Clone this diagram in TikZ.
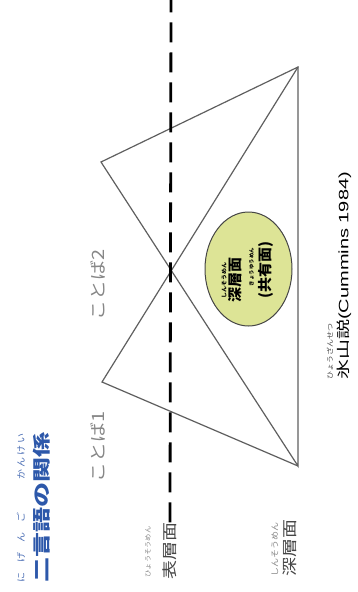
\documentclass[tikz,border=0pt]{standalone}
\usepackage{fontspec}
\setmainfont{Noto Sans CJK JP}
\newfontfamily\lat{Liberation Sans}
\usetikzlibrary{shapes.geometric}
\definecolor{tri}{RGB}{95,95,95}
\definecolor{titleblue}{RGB}{45,88,170}
\definecolor{rubyblue}{RGB}{75,110,180}
\definecolor{graytxt}{RGB}{135,135,135}
\definecolor{darktxt}{RGB}{70,70,70}
\definecolor{ellfill}{RGB}{221,228,150}
\newcommand\sqz[2]{\scalebox{1}[#1]{#2}}
\begin{document}
\begin{tikzpicture}[x=1pt,y=-1pt,
  edge/.style={draw=tri, line width=1.2pt, line join=miter},
  surf/.style={draw=black, line width=2.8pt, dash pattern=on 20pt off 10pt},
  lbl/.style={rotate=90, inner sep=0pt, anchor=center},
  lblw/.style={rotate=90, inner sep=0pt, anchor=west},
]
\useasboundingbox (0,0) rectangle (357,592);
% vertices
\coordinate (TR) at (298,67);
\coordinate (BR) at (298,466);
\coordinate (L1) at (101,162);
\coordinate (L2) at (102,382);
\coordinate (top) at (171,0);
% triangles
\draw[edge] (TR) -- (L1) -- (BR) -- cycle;
\draw[edge] (TR) -- (L2) -- (BR);
% shared area ellipse
\node[ellipse, draw=darktxt, line width=1pt, fill=ellfill, minimum width=87pt, minimum height=114pt, inner sep=0pt] (E) at (248.5,269) {};
\node[lbl] (r1) at (224,280) {\fontsize{6}{6}\selectfont\bfseries\sqz{0.9}{しんそうめん}};
\node[lbl] (t1) at (235.5,280) {\fontsize{15}{15}\selectfont\bfseries\sqz{0.95}{深層面}};
\node[lbl] (r2) at (251.5,267) {\fontsize{5.5}{5.5}\selectfont\bfseries\sqz{0.9}{きょうゆうめん}};
\node[lbl] (t2) at (266,270) {\fontsize{15}{15}\selectfont\bfseries\sqz{0.95}{(共有面)}};
% labels
\node[lbl, text=graytxt] (k1) at (98,447) {\fontsize{20}{20}\selectfont\sqz{0.85}{ことば1}};
\node[lbl, text=graytxt] (k2) at (98,285) {\fontsize{20}{20}\selectfont\sqz{0.85}{ことば2}};
% title
\node[lbl, text=titleblue] (title) at (41.5,507.5) {\fontsize{25}{25}\selectfont\bfseries\sqz{0.72}{二言語の関係}};
\node[lbl, text=rubyblue] (tr1) at (21,547) {\fontsize{10}{10}\selectfont\sqz{0.9}{に\hspace{10pt}げ\hspace{10pt}ん\hspace{10pt}ご}};
\node[lbl, text=rubyblue] (tr2) at (21,456) {\fontsize{10}{10}\selectfont\sqz{0.9}{か\hspace{2pt}ん\hspace{2pt}け\hspace{2pt}い}};
% surface / deep labels
\node[lbl, text=darktxt] (hyoso) at (170,551) {\fontsize{19}{19}\selectfont\sqz{0.8}{表層面}};
\node[lbl, text=graytxt] (hyosor) at (148,552) {\fontsize{7.3}{7.3}\selectfont\sqz{0.9}{ひょうそうめん}};
\node[lbl, text=darktxt] (shinso) at (290,548) {\fontsize{19}{19}\selectfont\sqz{0.8}{深層面}};
\node[lbl, text=graytxt] (shinsor) at (275,549) {\fontsize{9}{9}\selectfont\sqz{0.9}{しんそうめん}};
% iceberg theory
\node[lblw, text=black] (ice) at (344,380) {\fontsize{20}{20}\selectfont\sqz{0.68}{氷山説{\lat(Cummins 1984)}}};
\node[lblw, text=darktxt] (icer) at (330,380) {\fontsize{8}{8}\selectfont\sqz{0.85}{ひょうざんせつ}};
% surface line
\draw[surf] (hyoso.east) -- (top);
\end{tikzpicture}
\end{document}
